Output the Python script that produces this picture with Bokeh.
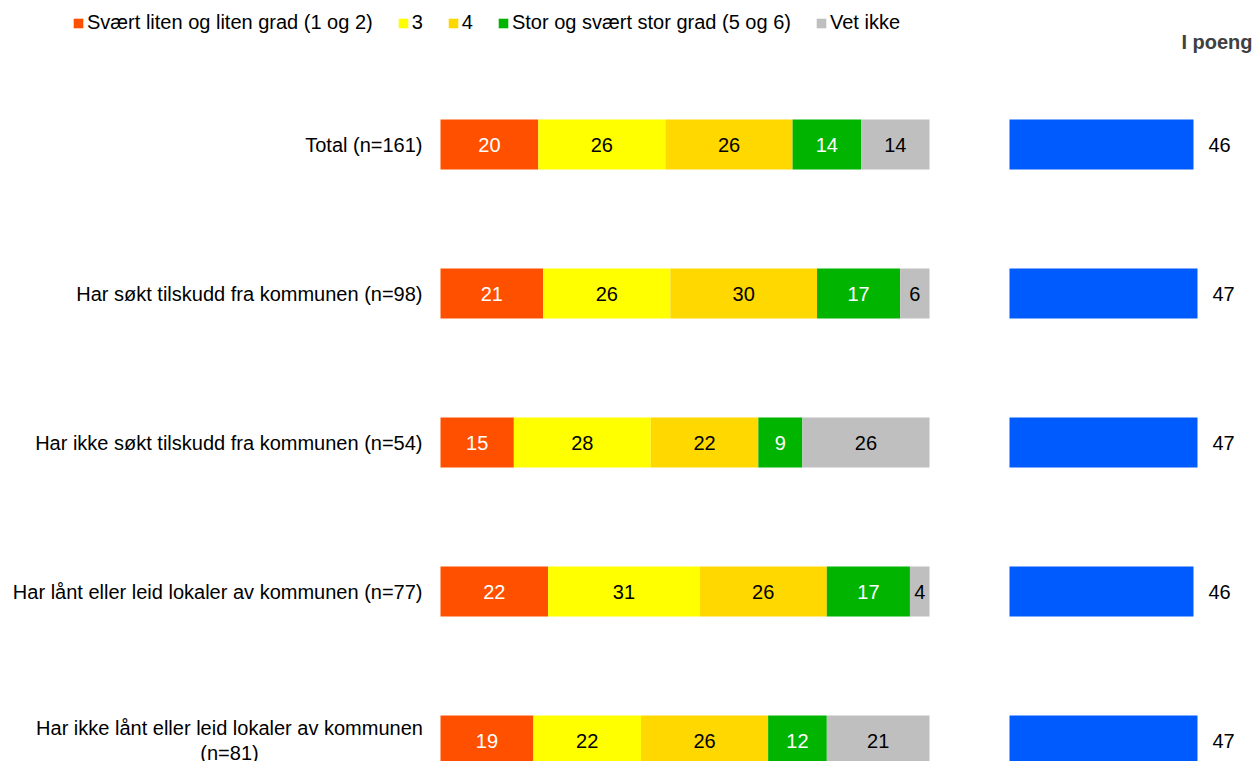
import numpy as np
from bokeh.plotting import figure
from bokeh.models import ColumnDataSource, Range1d, Label
from bokeh.core.properties import value
from bokeh.embed import file_html
from bokeh.resources import INLINE

# ---------------- data ----------------
categories = [
    "Total (n=161)",
    "Har søkt tilskudd fra kommunen (n=98)",
    "Har ikke søkt tilskudd fra kommunen (n=54)",
    "Har lånt eller leid lokaler av kommunen (n=77)",
    "Har ikke lånt eller leid lokaler av kommunen\n(n=81)",
]
series_names = [
    "Svært liten og liten grad (1 og 2)",
    "3",
    "4",
    "Stor og svært stor grad (5 og 6)",
    "Vet ikke",
]
low = [20, 21, 15, 22, 19]
three = [26, 26, 28, 31, 22]
four = [26, 30, 22, 26, 26]
high = [14, 17, 9, 17, 12]
dont_know = [14, 6, 26, 4, 21]
points = [46, 47, 47, 46, 47]
score_title = "I poeng"

# ---------------- style / layout ----------------
colors = ["#FF5000", "#FFFF00", "#FFD800", "#00B400", "#BFBFBF"]
label_colors = ["#FFFFFF", "#000000", "#000000", "#FFFFFF", "#000000"]
blue = "#005BFF"
FONT = "Liberation Sans"
FS = "20px"

W, H = 1255, 761
pct_px = 4.89          # pixels per percent
zero_px = 440          # frame x of 0 %
score_px = 4.0         # pixels per point
score_zero_px = 1009   # frame x of 0 points
row_px = 149
first_row_px = 144
bar_h = 50 / row_px

n = len(categories)
ys = list(range(n))

p = figure(
    width=W, height=H,
    x_range=Range1d(-zero_px / pct_px, (W - zero_px) / pct_px),
    y_range=Range1d((H - first_row_px) / row_px, -first_row_px / row_px),
    output_backend="svg", toolbar_location=None,
    x_axis_location=None, y_axis_location=None,
    min_border=0,
)
p.extra_x_ranges = {"score": Range1d(-score_zero_px / score_px, (W - score_zero_px) / score_px)}
p.outline_line_color = None
p.grid.visible = False
p.background_fill_color = "white"
p.border_fill_color = "white"

keys = ["low", "three", "four", "high", "dk"]
data = dict(y=ys, low=low, three=three, four=four, high=high, dk=dont_know,
            points=points, points_txt=[str(v) for v in points])
source = ColumnDataSource(data)

p.hbar_stack(keys, y="y", height=bar_h, color=colors, line_color=None,
             source=source, legend_label=series_names)

# segment value labels
arrs = np.array([low, three, four, high, dont_know], dtype=float)
cum = np.cumsum(arrs, axis=0)
for i in range(len(keys)):
    mid = cum[i] - arrs[i] / 2
    p.text(x=list(mid), y=ys, text=[str(int(v)) for v in arrs[i]],
           text_align="center", text_baseline="middle",
           text_font=value(FONT), text_font_size=FS, text_color=label_colors[i])

# score bars
p.hbar(y="y", left=0, right="points", height=bar_h, color=blue, line_color=None,
       source=source, x_range_name="score")
p.text(x="points", y="y", text="points_txt", x_offset=15, x_range_name="score",
       source=source, text_align="left", text_baseline="middle",
       text_font=value(FONT), text_font_size=FS, text_color="#000000")

# category labels
single = [(c, y) for c, y in zip(categories, ys) if "\n" not in c]
multi = [(c, y) for c, y in zip(categories, ys) if "\n" in c]
if single:
    p.text(x=[0] * len(single), y=[s[1] for s in single], text=[s[0] for s in single],
           x_offset=-18, text_align="right", text_baseline="middle",
           text_font=value(FONT), text_font_size=FS, text_color="#000000")
if multi:
    p.text(x=[0] * len(multi), y=[s[1] for s in multi], text=[s[0] for s in multi],
           x_offset=-211, text_align="center", text_baseline="middle",
           text_line_height=1.15,
           text_font=value(FONT), text_font_size=FS, text_color="#000000")

# legend
leg = p.legend[0]
leg.orientation = "horizontal"
leg.location = (72, 727)
leg.glyph_width = 12
leg.glyph_height = 12
leg.label_standoff = 3
leg.spacing = 24
leg.padding = 0
leg.margin = 0
leg.label_width = 0
leg.label_height = 12
leg.border_line_color = None
leg.background_fill_alpha = 0
leg.label_text_font = FONT
leg.label_text_font_size = FS
leg.label_text_color = "#000000"

# "I poeng" header
p.add_layout(Label(x=(W - score_zero_px) / score_px, y=-first_row_px / row_px + 41 / row_px,
                   x_range_name="score", x_offset=-3, text=score_title, text_align="right",
                   text_baseline="middle", text_font=FONT, text_font_size=FS,
                   text_font_style="bold", text_color="#404040"))

open("out.html", "w").write(file_html(p, INLINE))
